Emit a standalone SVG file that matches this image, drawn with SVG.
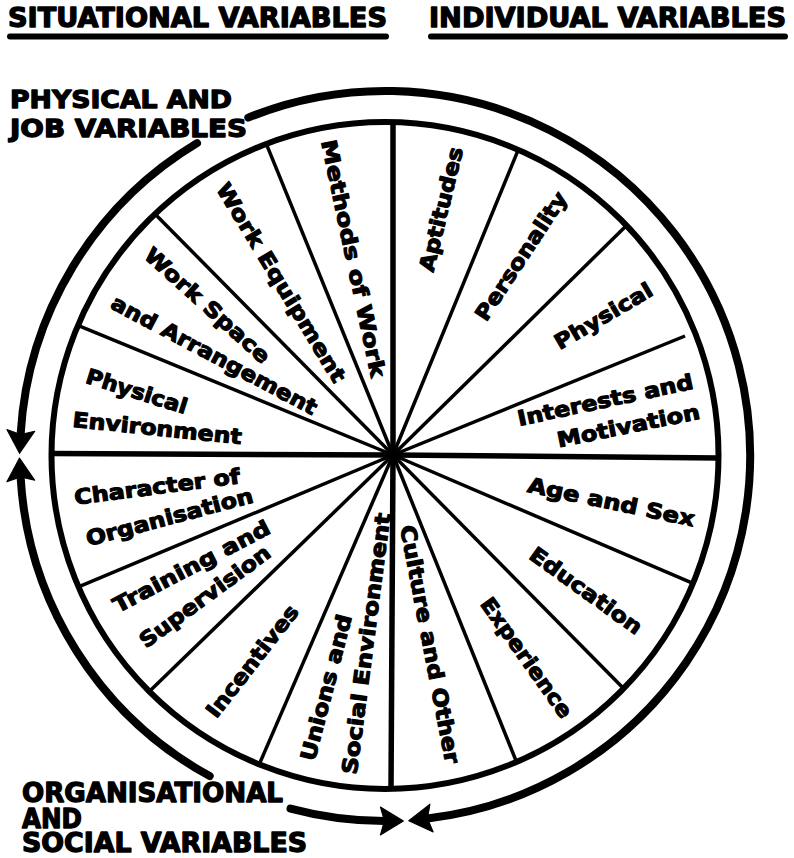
<svg xmlns="http://www.w3.org/2000/svg" width="794" height="858" viewBox="0 0 794 858">
  <defs>
    <style>
      .head { font-family: "DejaVu Sans", "Liberation Sans", sans-serif; font-weight: bold; fill: #000; stroke: #000; stroke-width: 1.3; stroke-linejoin: round; }
      .lbl { font-family: "DejaVu Sans", "Liberation Sans", sans-serif; font-weight: bold; font-size: 21px; text-anchor: middle; dominant-baseline: central; fill: #000; stroke: #000; stroke-width: 1.1; stroke-linejoin: round; }
      .rule { stroke: #000; stroke-width: 6; stroke-linecap: round; fill: none; }
      .rim { stroke: #000; stroke-width: 6; fill: none; }
      .axis { stroke: #000; stroke-width: 5.5; stroke-linecap: butt; }
      .spoke { stroke: #000; stroke-width: 3.5; stroke-linecap: butt; }
      .ring { stroke: #000; stroke-width: 8; fill: none; stroke-linecap: round; }
    </style>
    <marker id="head" markerUnits="userSpaceOnUse" viewBox="0 -15 26 30" refX="4" refY="0" markerWidth="26" markerHeight="30" orient="auto" overflow="visible">
      <path d="M0,-14 L23,0 L0,14 L4,0 Z" fill="#000" stroke="#000" stroke-width="1" stroke-linejoin="round"/>
    </marker>
  </defs>

  <rect width="794" height="858" fill="#fff"/>

  <!-- column headings -->
  <g id="heading-situational">
    <text class="head" x="8" y="27" font-size="26" textLength="379" lengthAdjust="spacingAndGlyphs">SITUATIONAL VARIABLES</text>
    <line class="rule" x1="10" y1="36.5" x2="386" y2="36.5"/>
  </g>
  <g id="heading-individual">
    <text class="head" x="429" y="27" font-size="26" textLength="357" lengthAdjust="spacingAndGlyphs">INDIVIDUAL VARIABLES</text>
    <line class="rule" x1="431" y1="36.5" x2="785" y2="36.5"/>
  </g>

  <!-- group captions -->
  <g id="caption-physical-job">
    <text class="head" x="10" y="108" font-size="25" textLength="222" lengthAdjust="spacingAndGlyphs">PHYSICAL AND</text>
    <text class="head" x="10" y="137" font-size="25" textLength="237" lengthAdjust="spacingAndGlyphs">JOB VARIABLES</text>
  </g>
  <g id="caption-organisational">
    <text class="head" x="22" y="802" font-size="26" textLength="261" lengthAdjust="spacingAndGlyphs">ORGANISATIONAL</text>
    <text class="head" x="22" y="828" font-size="26" textLength="60" lengthAdjust="spacingAndGlyphs">AND</text>
    <text class="head" x="22" y="852" font-size="26" textLength="285" lengthAdjust="spacingAndGlyphs">SOCIAL VARIABLES</text>
  </g>

  <!-- wheel: rim, axes and sixteen spokes -->
  <g id="wheel">
    <circle class="rim" cx="385" cy="455.5" r="333.5"/>
    <line class="axis" x1="393" y1="455" x2="51" y2="453.5"/>
    <line class="axis" x1="393" y1="455" x2="719" y2="458"/>
    <line class="axis" x1="393" y1="455" x2="393" y2="122"/>
    <line class="axis" x1="393" y1="455" x2="391" y2="789"/>
    <line class="spoke" x1="393" y1="455" x2="77.9" y2="325.3"/>
    <line class="spoke" x1="393" y1="455" x2="155" y2="213.9"/>
    <line class="spoke" x1="393" y1="455" x2="266.3" y2="143.8"/>
    <line class="spoke" x1="393" y1="455" x2="518.3" y2="149.7"/>
    <line class="spoke" x1="393" y1="455" x2="626.5" y2="225.5"/>
    <line class="spoke" x1="393" y1="455" x2="685" y2="336"/>
    <line class="spoke" x1="393" y1="455" x2="693" y2="583.3"/>
    <line class="spoke" x1="393" y1="455" x2="623.6" y2="688.6"/>
    <line class="spoke" x1="393" y1="455" x2="516.6" y2="762.1"/>
    <line class="spoke" x1="393" y1="455" x2="259.2" y2="764.4"/>
    <line class="spoke" x1="393" y1="455" x2="149.3" y2="691.6"/>
    <line class="spoke" x1="393" y1="455" x2="78.5" y2="586.9"/>
    <circle cx="393" cy="455" r="6" fill="#000"/>
  </g>

  <!-- situational: physical and job -->
  <g id="physical-environment">
    <text class="lbl" transform="translate(136.6,391.7) rotate(17.5)" textLength="105" lengthAdjust="spacingAndGlyphs">Physical</text>
    <text class="lbl" transform="translate(157.2,428.5) rotate(5.9)" textLength="170" lengthAdjust="spacingAndGlyphs">Environment</text>
  </g>
  <g id="work-space">
    <text class="lbl" transform="translate(207.2,305.6) rotate(42)" textLength="161" lengthAdjust="spacingAndGlyphs">Work Space</text>
    <text class="lbl" transform="translate(214.1,355.4) rotate(28)" textLength="230" lengthAdjust="spacingAndGlyphs">and Arrangement</text>
  </g>
  <g id="work-equipment">
    <text class="lbl" transform="translate(280.9,282.8) rotate(58.8)" textLength="229" lengthAdjust="spacingAndGlyphs">Work Equipment</text>
  </g>
  <g id="methods-of-work">
    <text class="lbl" transform="translate(353,258.5) rotate(78)" textLength="242" lengthAdjust="spacingAndGlyphs">Methods of Work</text>
  </g>

  <!-- individual -->
  <g id="aptitudes">
    <text class="lbl" transform="translate(441.4,209.3) rotate(-76.4)" textLength="127" lengthAdjust="spacingAndGlyphs">Aptitudes</text>
  </g>
  <g id="personality">
    <text class="lbl" transform="translate(521.4,256.3) rotate(-56.7)" textLength="149" lengthAdjust="spacingAndGlyphs">Personality</text>
  </g>
  <g id="physical">
    <text class="lbl" transform="translate(603.6,316.3) rotate(-30.5)" textLength="110" lengthAdjust="spacingAndGlyphs">Physical</text>
  </g>
  <g id="interests-motivation">
    <text class="lbl" transform="translate(605.3,400.4) rotate(-12.1)" textLength="179" lengthAdjust="spacingAndGlyphs">Interests and</text>
    <text class="lbl" transform="translate(628.5,426.1) rotate(-11.5)" textLength="145" lengthAdjust="spacingAndGlyphs">Motivation</text>
  </g>
  <g id="age-sex">
    <text class="lbl" transform="translate(611.2,502.3) rotate(11.8)" textLength="170" lengthAdjust="spacingAndGlyphs">Age and Sex</text>
  </g>
  <g id="education">
    <text class="lbl" transform="translate(585.8,590.9) rotate(35.7)" textLength="133" lengthAdjust="spacingAndGlyphs">Education</text>
  </g>
  <g id="experience">
    <text class="lbl" transform="translate(526.4,657.9) rotate(54.6)" textLength="142" lengthAdjust="spacingAndGlyphs">Experience</text>
  </g>
  <g id="culture-other">
    <text class="lbl" transform="translate(429.7,644.3) rotate(79.1)" textLength="242" lengthAdjust="spacingAndGlyphs">Culture and Other</text>
  </g>

  <!-- situational: organisational and social -->
  <g id="character-of-organisation">
    <text class="lbl" transform="translate(157.2,487) rotate(-7.5)" textLength="167" lengthAdjust="spacingAndGlyphs">Character of</text>
    <text class="lbl" transform="translate(169.5,517.4) rotate(-14.9)" textLength="172" lengthAdjust="spacingAndGlyphs">Organisation</text>
  </g>
  <g id="training-supervision">
    <text class="lbl" transform="translate(191.7,566.7) rotate(-27.6)" textLength="174" lengthAdjust="spacingAndGlyphs">Training and</text>
    <text class="lbl" transform="translate(205,596.7) rotate(-36.3)" textLength="157" lengthAdjust="spacingAndGlyphs">Supervision</text>
  </g>
  <g id="incentives">
    <text class="lbl" transform="translate(252.6,661.4) rotate(-52.1)" textLength="136" lengthAdjust="spacingAndGlyphs">Incentives</text>
  </g>
  <g id="unions-social">
    <text class="lbl" transform="translate(326.5,687.6) rotate(-75.5)" textLength="150" lengthAdjust="spacingAndGlyphs">Unions and</text>
    <text class="lbl" transform="translate(366.5,643.6) rotate(-82.6)" textLength="263" lengthAdjust="spacingAndGlyphs">Social Environment</text>
  </g>

  <!-- outer ring arrows -->
  <g id="connectors">
    <path class="ring" d="M248.3,117.6 A365,365 0 1 1 427.6,818.5" marker-end="url(#head)"/>
    <path class="ring" d="M197,143.1 A365,365 0 0 0 20.6,434.4" marker-end="url(#head)"/>
    <path class="ring" d="M209.7,776.1 A365,365 0 0 1 20.6,477" marker-end="url(#head)"/>
    <path class="ring" d="M290.5,808.6 A365,365 0 0 0 384.4,821" marker-end="url(#head)"/>
  </g>
</svg>
